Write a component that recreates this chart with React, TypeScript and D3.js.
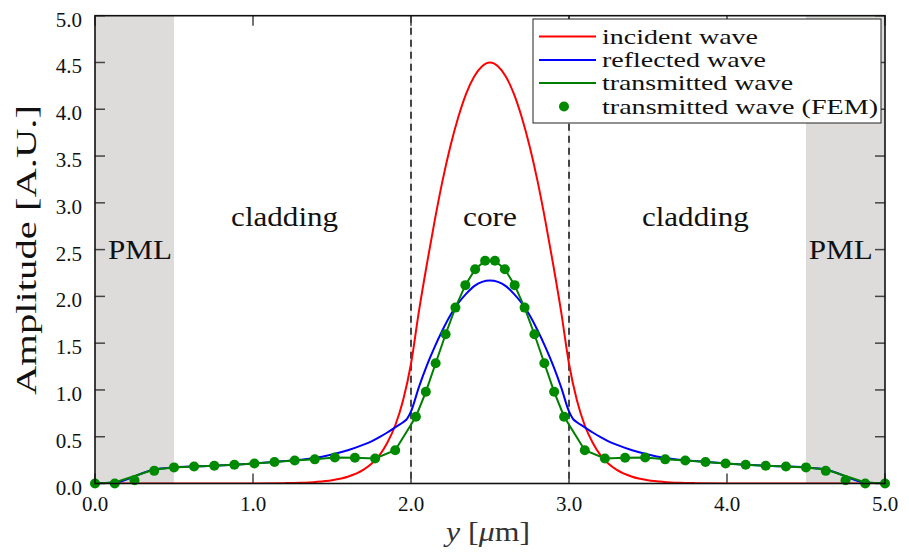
import React from "react";
import * as d3 from "d3";

// ---------- data ----------
const incidentX = [0, 0.5, 1.0, 1.2, 1.3, 1.4, 1.5, 1.6, 1.7, 1.75, 1.8, 1.85, 1.9, 1.95, 2.0, 2.05, 2.1, 2.15, 2.2, 2.25, 2.3, 2.35, 2.4, 2.45, 2.5,
  2.55, 2.6, 2.65, 2.7, 2.75, 2.8, 2.85, 2.9, 2.95, 3.0, 3.05, 3.1, 3.15, 3.2, 3.25, 3.3, 3.4, 3.5, 3.6, 3.7, 3.8, 4.0, 4.5, 5.0];
const incidentY = [0, 0, 0.001, 0.004, 0.008, 0.017, 0.035, 0.072, 0.148, 0.21, 0.30, 0.435, 0.62, 0.89, 1.28, 1.84, 2.34, 2.81, 3.24, 3.61, 3.92, 4.17, 4.35, 4.46, 4.5,
  4.46, 4.35, 4.17, 3.92, 3.61, 3.24, 2.81, 2.34, 1.84, 1.28, 0.89, 0.62, 0.435, 0.30, 0.21, 0.148, 0.072, 0.035, 0.017, 0.008, 0.004, 0.001, 0, 0];

const reflectedX = [0, 0.125, 0.375, 0.5, 0.75, 1.0, 1.2, 1.3, 1.4, 1.5, 1.6, 1.7, 1.75, 1.8, 1.85, 1.9, 1.95, 1.975, 2.0, 2.05, 2.1, 2.15, 2.2, 2.25, 2.3, 2.35, 2.4, 2.45, 2.5,
  2.55, 2.6, 2.65, 2.7, 2.75, 2.8, 2.85, 2.9, 2.95, 3.0, 3.025, 3.05, 3.1, 3.15, 3.2, 3.25, 3.3, 3.4, 3.5, 3.6, 3.7, 3.8, 4.0, 4.25, 4.5, 4.625, 4.875, 5.0];
const reflectedY = [0, 0.01, 0.15, 0.172, 0.19, 0.213, 0.24, 0.255, 0.275, 0.31, 0.355, 0.415, 0.45, 0.495, 0.545, 0.60, 0.655, 0.69, 0.77, 1.03, 1.26, 1.46, 1.64, 1.80, 1.93, 2.03, 2.11, 2.155, 2.17,
  2.155, 2.11, 2.03, 1.93, 1.80, 1.64, 1.46, 1.26, 1.03, 0.77, 0.69, 0.655, 0.60, 0.545, 0.495, 0.45, 0.415, 0.355, 0.31, 0.275, 0.255, 0.24, 0.213, 0.19, 0.172, 0.15, 0.01, 0];

const transLineX = [0, 0.125, 0.375, 0.5, 0.627, 0.755, 0.882, 1.009, 1.136, 1.264, 1.391, 1.518, 1.645, 1.773, 1.9,
  2.031, 2.094, 2.156, 2.219, 2.281, 2.344, 2.406, 2.469, 2.531, 2.594, 2.656, 2.719, 2.781, 2.844, 2.906, 2.969,
  3.1, 3.227, 3.355, 3.482, 3.609, 3.736, 3.864, 3.991, 4.118, 4.245, 4.373, 4.5, 4.625, 4.875, 5.0];
const transLineY = [0, 0.01, 0.15, 0.172, 0.182, 0.19, 0.2, 0.213, 0.23, 0.245, 0.258, 0.278, 0.275, 0.268, 0.355,
  0.714, 0.98, 1.285, 1.595, 1.88, 2.12, 2.29, 2.38, 2.38, 2.29, 2.12, 1.88, 1.595, 1.285, 0.98, 0.714,
  0.355, 0.268, 0.275, 0.278, 0.258, 0.245, 0.23, 0.213, 0.2, 0.19, 0.182, 0.172, 0.15, 0.01, 0];

const femX = [0, 0.125, 0.25, 0.375, 0.5, 0.627, 0.755, 0.882, 1.009, 1.136, 1.264, 1.391, 1.518, 1.645, 1.773, 1.9,
  2.031, 2.094, 2.156, 2.219, 2.281, 2.344, 2.406, 2.469, 2.531, 2.594, 2.656, 2.719, 2.781, 2.844, 2.906, 2.969,
  3.1, 3.227, 3.355, 3.482, 3.609, 3.736, 3.864, 3.991, 4.118, 4.245, 4.373, 4.5, 4.625, 4.75, 4.875, 5.0];
const femY = [0, 0, 0.035, 0.135, 0.172, 0.182, 0.19, 0.2, 0.213, 0.23, 0.245, 0.258, 0.278, 0.275, 0.268, 0.355,
  0.714, 0.98, 1.285, 1.595, 1.88, 2.12, 2.29, 2.38, 2.38, 2.29, 2.12, 1.88, 1.595, 1.285, 0.98, 0.714,
  0.355, 0.268, 0.275, 0.278, 0.258, 0.245, 0.23, 0.213, 0.2, 0.19, 0.182, 0.172, 0.135, 0.035, 0, 0];

const xTicks = [0, 1, 2, 3, 4, 5];
const xTickLabels = ["0.0", "1.0", "2.0", "3.0", "4.0", "5.0"];
const yTicks = [0, 0.5, 1, 1.5, 2, 2.5, 3, 3.5, 4, 4.5, 5];
const yTickLabels = ["0.0", "0.5", "1.0", "1.5", "2.0", "2.5", "3.0", "3.5", "4.0", "4.5", "5.0"];
const pmlRegions = [[0, 0.5], [4.5, 5]];
const interfaces = [2, 3];
const regionLabels = [
  { text: "PML", x: 0.285, y: 2.5, len: 64 },
  { text: "cladding", x: 1.2, y: 2.85, len: 107 },
  { text: "core", x: 2.5, y: 2.85, len: 54 },
  { text: "cladding", x: 3.8, y: 2.85, len: 107 },
  { text: "PML", x: 4.72, y: 2.5, len: 64 },
];
const legendLabels = ["incident wave", "reflected wave", "transmitted wave", "transmitted wave (FEM)"];
const colors = { incident: "#ff0000", reflected: "#0000ff", transmitted: "#008000", fem: "#008a00" };

const W = 909, H = 554;
const FONT = "Liberation Serif, DejaVu Serif, Times New Roman, Times, serif";

export default function App() {
  const x = d3.scaleLinear().domain([0, 5]).range([95, 885]);
  const y = d3.scaleLinear().domain([0, 5]).range([483.5, 15.7]);
  const line = (xs: number[], ys: number[], curve: any) =>
    d3.line<number>().x((_, i) => x(xs[i])).y((_, i) => y(ys[i])).curve(curve)(xs as any) || "";

  const x0 = x(0), x1 = x(5), y0 = y(0), y1 = y(5);
  const legendRowY = [36.5, 60, 83, 106.5];
  const legendTextLen = [156, 164, 191, 276];

  return (
    <svg width={W} height={H} style={{ position: "absolute", left: 0, top: 0, background: "#fff", fontFamily: FONT }}>
      <defs>
        <clipPath id="plotclip">
          <rect x={x0} y={y1} width={x1 - x0} height={y0 - y1} />
        </clipPath>
      </defs>
      <rect x={0} y={0} width={W} height={H} fill="#fff" />
      {pmlRegions.map((r, i) => (
        <rect key={i} x={x(r[0])} y={y1} width={x(r[1]) - x(r[0])} height={y0 - y1} fill="#dddcdb" />
      ))}
      {/* interfaces */}
      {interfaces.map((v) => (
        <g key={v}>
          <line x1={x(v)} x2={x(v)} y1={y1} y2={y0} stroke="#e2e2e2" strokeWidth={1.5} />
          <line x1={x(v)} x2={x(v)} y1={y1} y2={y0} stroke="#000" strokeWidth={1.4} strokeDasharray="7,5" />
        </g>
      ))}
      {/* ticks */}
      {yTicks.map((t) => (
        <g key={"yt" + t} stroke="#444" strokeWidth={1.5}>
          <line x1={x0} x2={x0 + 10} y1={y(t)} y2={y(t)} />
          <line x1={x1} x2={x1 - 10} y1={y(t)} y2={y(t)} />
        </g>
      ))}
      {xTicks.map((t) => (
        <g key={"xt" + t} stroke="#444" strokeWidth={1.5}>
          <line x1={x(t)} x2={x(t)} y1={y0} y2={y0 - 10} />
          <line x1={x(t)} x2={x(t)} y1={y1} y2={y1 + 10} />
        </g>
      ))}
      {/* region labels */}
      {regionLabels.map((r, i) => (
        <text key={i} x={x(r.x)} y={y(r.y) + 9} textAnchor="middle" fontSize={27} fill="#111"
          textLength={r.len} lengthAdjust="spacingAndGlyphs">
          {r.text}
        </text>
      ))}
      {/* curves */}
      <g clipPath="url(#plotclip)">
        <path d={line(incidentX, incidentY, d3.curveMonotoneX)} fill="none" stroke={colors.incident} strokeWidth={2} />
        <path d={line(reflectedX, reflectedY, d3.curveMonotoneX)} fill="none" stroke={colors.reflected} strokeWidth={2} />
        <path d={line(transLineX, transLineY, d3.curveLinear)} fill="none" stroke={colors.transmitted} strokeWidth={2} />
      </g>
      {femX.map((v, i) => (
        <circle key={i} cx={x(v)} cy={y(femY[i])} r={5} fill={colors.fem} />
      ))}
      {/* frame */}
      <rect x={x0} y={y1} width={x1 - x0} height={y0 - y1} fill="none" stroke="#111" strokeWidth={1.6} />
      {/* tick labels */}
      {yTicks.map((t, i) => (
        <text key={"yl" + t} x={82} y={y(t) + 11} textAnchor="end" fontSize={21} fill="#111">
          {yTickLabels[i]}
        </text>
      ))}
      {xTicks.map((t, i) => (
        <text key={"xl" + t} x={x(t)} y={511} textAnchor="middle" fontSize={21} fill="#111">
          {xTickLabels[i]}
        </text>
      ))}
      {/* axis titles */}
      <text transform={`translate(36,250) rotate(-90)`} textAnchor="middle" fontSize={29} fill="#111"
        textLength={290} lengthAdjust="spacingAndGlyphs">
        Amplitude [A.U.]
      </text>
      <text x={488} y={541} textAnchor="middle" fontSize={27} fill="#333" textLength={84} lengthAdjust="spacingAndGlyphs">
        <tspan fontStyle="italic">y</tspan>
        <tspan> [</tspan>
        <tspan fontStyle="italic">μ</tspan>
        <tspan>m]</tspan>
      </text>
      {/* legend */}
      <rect x={533} y={19} width={348} height={104} fill="#fff" stroke="#222" strokeWidth={1} />
      {[colors.incident, colors.reflected, colors.transmitted].map((c, i) => (
        <line key={i} x1={539} x2={596} y1={legendRowY[i]} y2={legendRowY[i]} stroke={c} strokeWidth={2} />
      ))}
      <circle cx={564} cy={legendRowY[3]} r={5} fill={colors.fem} />
      {legendLabels.map((l, i) => (
        <text key={l} x={602} y={legendRowY[i] + 7} fontSize={22} fill="#111" textLength={legendTextLen[i]} lengthAdjust="spacingAndGlyphs">
          {l}
        </text>
      ))}
    </svg>
  );
}
